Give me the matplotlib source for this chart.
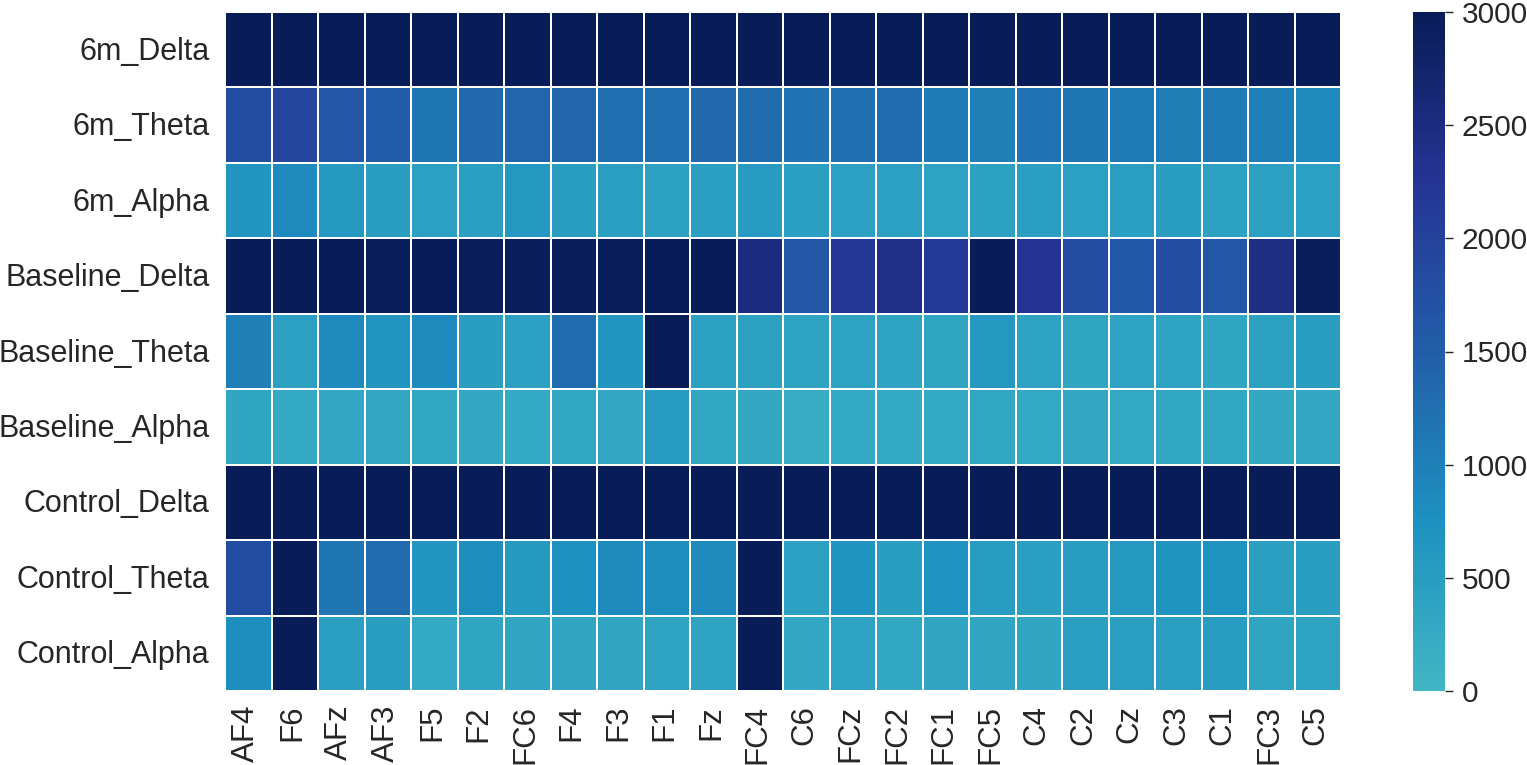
import matplotlib
matplotlib.use('Agg')
import matplotlib.pyplot as plt
from matplotlib.colors import LinearSegmentedColormap
from matplotlib.transforms import ScaledTranslation
import numpy as np
import seaborn as sns

rows = ['6m_Delta', '6m_Theta', '6m_Alpha', 'Baseline_Delta', 'Baseline_Theta',
        'Baseline_Alpha', 'Control_Delta', 'Control_Theta', 'Control_Alpha']
channels = ['AF4', 'F6', 'AFz', 'AF3', 'F5', 'F2', 'FC6', 'F4', 'F3', 'F1', 'Fz', 'FC4',
            'C6', 'FCz', 'FC2', 'FC1', 'FC5', 'C4', 'C2', 'Cz', 'C3', 'C1', 'FC3', 'C5']

m6_delta = [3000] * 24
m6_theta = [1800, 1900, 1650, 1550, 1150, 1350, 1400, 1400, 1250, 1250, 1350, 1300,
            1200, 1250, 1300, 1100, 1000, 1200, 1150, 1100, 1050, 1100, 1000, 850]
m6_alpha = [650, 850, 600, 500, 450, 480, 600, 500, 480, 430, 480, 550,
            480, 450, 450, 400, 430, 480, 450, 470, 500, 430, 450, 450]
base_delta = [3000, 3000, 3000, 2950, 3000, 2950, 2950, 2950, 2950, 3000, 3000, 2500,
              1650, 2200, 2400, 2150, 3000, 2250, 1800, 1600, 1800, 1650, 2450, 2950]
base_theta = [1000, 450, 850, 650, 850, 500, 450, 1300, 650, 3000, 430, 430,
              380, 400, 380, 360, 600, 400, 360, 400, 370, 330, 440, 500]
base_alpha = [330, 270, 320, 300, 310, 300, 270, 310, 320, 550, 310, 300,
              220, 270, 270, 280, 310, 290, 300, 290, 310, 310, 300, 300]
ctrl_delta = [3000] * 24
ctrl_theta = [1800, 3000, 1150, 1300, 650, 800, 580, 750, 850, 800, 850, 3000,
              450, 680, 500, 730, 530, 480, 530, 620, 700, 720, 480, 500]
ctrl_alpha = [800, 3000, 460, 500, 280, 330, 350, 350, 340, 380, 370, 3000,
              320, 400, 310, 350, 340, 350, 470, 470, 470, 520, 360, 370]

data = np.array([m6_delta, m6_theta, m6_alpha, base_delta, base_theta,
                 base_alpha, ctrl_delta, ctrl_theta, ctrl_alpha])

plt.rcParams['font.family'] = ['Liberation Sans', 'DejaVu Sans']

# обрезанная палитра YlGnBu, начиная с бирюзового
cmap = LinearSegmentedColormap.from_list(
    'trunc', ['#41b6c4', '#1d91c0', '#225ea8', '#253494', '#081d58'])

fig = plt.figure(figsize=(15.27, 7.65), dpi=100)
ax = fig.add_axes([225 / 1527, 1 - 691 / 765, (1341 - 225) / 1527, (691 - 12) / 765])
cax = fig.add_axes([1413 / 1527, 1 - 691 / 765, (1445 - 1413) / 1527, (691 - 12) / 765])

sns.heatmap(data, ax=ax, cbar_ax=cax, cmap=cmap, vmin=0, vmax=3000,
            linewidths=1.2, linecolor='white',
            xticklabels=channels, yticklabels=rows)

ax.tick_params(axis='y', length=0, labelsize=22, colors='#262626', pad=11)
ax.tick_params(axis='x', length=0, labelsize=22.5, colors='#262626', pad=10)
plt.setp(ax.get_yticklabels(), rotation=0)
plt.setp(ax.get_xticklabels(), rotation=90)

# подписи строк чуть ниже центра ячейки, подписи столбцов чуть левее
shift_y = ScaledTranslation(0, -1.5 / 72, fig.dpi_scale_trans)
for label in ax.get_yticklabels():
    label.set_transform(label.get_transform() + shift_y)
shift_x = ScaledTranslation(-1.5 / 72, 0, fig.dpi_scale_trans)
for label in ax.get_xticklabels():
    label.set_transform(label.get_transform() + shift_x)

cax.tick_params(length=6, width=1, labelsize=21.5, colors='#262626', pad=6)
cax.set_yticks([0, 500, 1000, 1500, 2000, 2500, 3000])
cax.collections[0].set_edgecolor('face')

fig.savefig('out.png', dpi=100)
